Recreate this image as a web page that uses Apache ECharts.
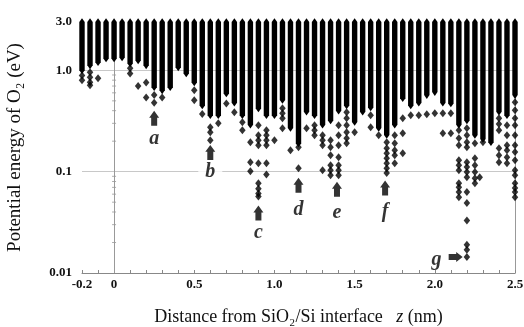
<!DOCTYPE html>
<html><head><meta charset="utf-8">
<script src="https://cdn.jsdelivr.net/npm/echarts@6/dist/echarts.min.js"></script>
<style>html,body{margin:0;padding:0;background:#fff}#c{width:524px;height:327px}</style>
</head><body><div id="c"></div>
<script>
// Column positions z (nm)
const columnX = [-0.2,-0.15,-0.1,-0.05,0,0.05,0.1,0.15,0.2,0.25,0.3,0.35,0.4,0.45,0.5,0.55,0.6,0.65,0.7,0.75,0.8,0.85,0.9,0.95,1.0,1.05,1.1,1.15,1.2,1.25,1.3,1.35,1.4,1.45,1.5,1.55,1.6,1.65,1.7,1.75,1.8,1.85,1.9,1.95,2.0,2.05,2.1,2.15,2.2,2.25,2.3,2.35,2.4,2.45,2.5];
// Lowest energy of the densely-filled part of each column (eV)
const solidBottomE = [1.0,1.12,1.20,1.31,1.31,1.34,1.17,1.25,1.12,0.68,0.635,0.68,1.07,0.93,0.76,0.45,0.36,0.36,0.59,0.48,0.36,0.29,0.42,0.36,0.36,0.51,0.27,0.19,0.39,0.36,0.29,0.32,0.40,0.45,0.31,0.39,0.43,0.27,0.23,0.29,0.53,0.45,0.48,0.57,0.61,0.48,0.47,0.29,0.32,0.23,0.21,0.195,0.39,0.36,0.57];
const topE = 3.0;
// Isolated low-energy sites: [z, [energies]]
const lowPoints = [
  [-0.2,[0.89,0.80]],
  [-0.15,[0.955,0.853,0.762,0.712]],
  [-0.1,[0.834]],
  [0.1,[1.05,0.93]],
  [0.15,[0.70]],
  [0.2,[0.76,0.54]],
  [0.25,[0.57,0.48]],
  [0.3,[0.54]],
  [0.5,[0.635,0.506]],
  [0.55,[0.37]],
  [0.6,[0.274,0.245,0.204]],
  [0.65,[0.30]],
  [0.7,[0.47]],
  [0.75,[0.386]],
  [0.8,[0.307,0.256]],
  [0.85,[0.195,0.124,0.101]],
  [0.9,[0.287,0.229,0.204,0.182,0.121,0.077,0.068,0.061,0.057]],
  [0.95,[0.256,0.229,0.204,0.182,0.121,0.094]],
  [1.0,[0.204]],
  [1.05,[0.422,0.377,0.337,0.268]],
  [1.1,[0.163]],
  [1.15,[0.174,0.108]],
  [1.2,[0.268]],
  [1.25,[0.287,0.256,0.229]],
  [1.3,[0.229,0.204,0.182,0.103]],
  [1.35,[0.204,0.174,0.145,0.116,0.103,0.092]],
  [1.4,[0.287,0.229,0.182,0.139,0.116,0.103,0.092]],
  [1.45,[0.386,0.337,0.287,0.245,0.214,0.191]],
  [1.5,[0.245]],
  [1.6,[0.36,0.274]],
  [1.65,[0.229]],
  [1.7,[0.195,0.17,0.152,0.136,0.121,0.108,0.097]],
  [1.75,[0.229,0.191,0.163,0.145,0.121]],
  [1.8,[0.337,0.239,0.152]],
  [1.85,[0.36]],
  [1.9,[0.36]],
  [1.95,[0.368]],
  [2.0,[0.377]],
  [2.05,[0.377,0.239]],
  [2.1,[0.377,0.239]],
  [2.15,[0.256,0.214,0.182,0.13,0.116,0.103,0.077,0.070,0.063,0.056]],
  [2.2,[0.268,0.229,0.195,0.174,0.124,0.111,0.099,0.088,0.063,0.049,0.033,0.019,0.017,0.0144]],
  [2.25,[0.191,0.136,0.116,0.099,0.086,0.077]],
  [2.28,[0.088]],
  [2.3,[0.195]],
  [2.4,[0.337,0.296,0.256,0.17,0.145,0.124]],
  [2.45,[0.287,0.229,0.182,0.163,0.139,0.121]],
  [2.5,[0.484,0.404,0.337,0.287,0.229,0.182,0.156,0.13,0.103,0.092,0.077,0.069,0.063,0.056]]
];
const xTickLabels = ['-0.2','0','0.5','1.0','1.5','2.0','2.5'];
const yTickLabels = ['0.01','0.1','1.0','3.0'];
const yMinorTicks = [0.02,0.03,0.04,0.05,0.06,0.07,0.08,0.09,0.2,0.3,0.4,0.5,0.6,0.7,0.8,0.9,2];
// Annotations
const markLetters = ['a','b','c','d','e','f','g'];
const arrowX = [0.25,0.6,0.9,1.15,1.39,1.69,2.13];
const arrowE = [0.337,0.155,0.039,0.0734,0.067,0.069,0.0144];
const letterX = [0.25,0.6,0.9,1.15,1.39,1.69,2.01];
const letterE = [0.209,0.099,0.0247,0.0418,0.039,0.04,0.0135];

const serif = '"Liberation Serif","Times New Roman",serif';
const upArrow = 'path://M5,0L10,6L8,6L8,13L2,13L2,6L0,6Z';
const rightArrow = 'path://M0,2L7,2L7,0L13,5L7,10L7,8L0,8Z';

const lowData = [];
lowPoints.forEach(p => p[1].forEach(e => lowData.push([p[0], e])));

const chart = echarts.init(document.getElementById('c'));
chart.setOption({
  animation: false,
  grid: {left: 82, right: 9, top: 22, bottom: 54, outerBoundsMode: 'none', containLabel: false},
  xAxis: {
    type: 'value', min: -0.2, max: 2.5, interval: 0.1,
    name: 'Distance from SiO\u2082/Si interface   {i|z} (nm)',
    nameLocation: 'middle', nameGap: 35,
    nameTextStyle: {fontFamily: serif, fontSize: 18, color: '#111', rich: {i: {fontFamily: serif, fontSize: 18, fontStyle: 'italic', color: '#111'}}},
    axisLine: {show: true, lineStyle: {color: '#888', width: 1}},
    axisTick: {show: true, inside: true, length: 3, lineStyle: {color: '#888'}},
    splitLine: {show: false},
    axisLabel: {
      interval: 0, margin: 5, fontFamily: serif, fontWeight: 'bold', fontSize: 13, color: '#111',
      formatter: v => { const l = xTickLabels.find(t => Math.abs(parseFloat(t) - v) < 1e-6); return l === undefined ? '' : l; }
    }
  },
  yAxis: [{
    type: 'log', logBase: 10, min: 0.01, max: 3,
    name: 'Potential energy of O\u2082 (eV)', nameLocation: 'middle', nameGap: 57,
    nameTextStyle: {fontFamily: serif, fontSize: 19, color: '#111'},
    axisLine: {show: true, lineStyle: {color: '#999', width: 1}},
    axisTick: {show: false},
    splitLine: {show: false},
    axisLabel: {
      margin: 10, fontFamily: serif, fontWeight: 'bold', fontSize: 13, color: '#111',
      formatter: v => { const l = yTickLabels.find(t => Math.abs(Math.log10(parseFloat(t)) - Math.log10(v)) < 1e-3); return l === undefined ? '' : l; }
    }
  }, {
    type: 'log', logBase: 10, min: 0.01, max: 3, position: 'right',
    axisLine: {show: true, lineStyle: {color: '#999', width: 1}},
    axisTick: {show: false}, axisLabel: {show: false}, splitLine: {show: false}
  }],
  series: [
    {
      type: 'scatter', z: 1, silent: true, data: [],
      markLine: {
        z: 1, silent: true, symbol: 'none', label: {show: false},
        data: [
          {yAxis: 0.1, lineStyle: {color: '#c8c8c8', width: 1, type: 'solid'}},
          {yAxis: 1.0, lineStyle: {color: '#c8c8c8', width: 1, type: 'solid'}},
          {xAxis: 0, lineStyle: {color: '#999', width: 1, type: 'solid'}}
        ]
      }
    },
    {
      type: 'scatter', z: 1, silent: true, symbol: 'rect', symbolSize: [4, 1],
      itemStyle: {color: '#999'},
      data: yMinorTicks.map(v => [0, v])
    },
    {
      type: 'custom', z: 3, clip: false,
      encode: {x: 0, y: [1, 2]},
      data: columnX.map((x, i) => [x, solidBottomE[i], topE]),
      renderItem: (params, api) => {
        const x = api.value(0);
        const pt = api.coord([x, api.value(2)]);
        const pb = api.coord([x, api.value(1)]);
        const w = 2.7, tip = 3.8;
        return {type: 'polygon', shape: {points: [
          [pt[0] - w, pt[1]], [pt[0], pt[1] - tip], [pt[0] + w, pt[1]],
          [pb[0] + w, pb[1]], [pb[0], pb[1] + tip], [pb[0] - w, pb[1]]
        ]}, style: {fill: '#000', stroke: null}};
      }
    },
    {
      type: 'scatter', z: 4, clip: false, symbol: 'diamond', symbolSize: [6.5, 8],
      itemStyle: {color: '#000'}, data: lowData
    },
    {
      type: 'scatter', z: 5, clip: false,
      itemStyle: {color: '#000'},
      data: arrowX.map((x, i) => ({value: [x, arrowE[i]], symbol: markLetters[i] === 'g' ? rightArrow : upArrow, symbolSize: markLetters[i] === 'g' ? [14, 10] : [10, 15]}))
    },
    {
      type: 'scatter', z: 5, clip: false, symbolSize: 0,
      data: letterX.map((x, i) => ({value: [x, letterE[i]], name: markLetters[i],
        label: markLetters[i] === 'b' ? {backgroundColor: '#fff', padding: [0, 7]} : {}})),
      label: {show: true, position: 'inside', formatter: '{b}', fontFamily: serif, fontStyle: 'italic', fontWeight: 'bold', fontSize: 20, color: '#000'}
    }
  ]
});
</script></body></html>
